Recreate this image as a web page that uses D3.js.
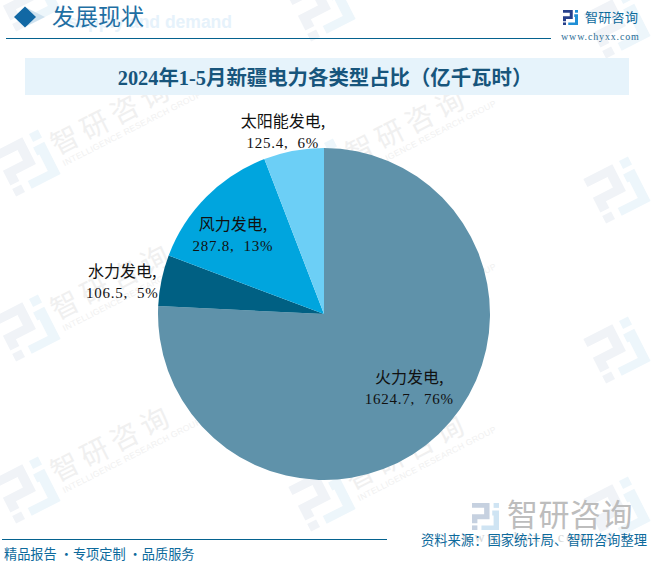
<!DOCTYPE html>
<html>
<head>
<meta charset="utf-8">
<style>
html, body { margin: 0; padding: 0; background: #fff; }
svg { display: block; }
</style>
<script src="https://cdn.jsdelivr.net/npm/d3@7"></script>
</head>
<body>
<svg></svg>
<script>
let categories = ['火力发电', '水力发电', '风力发电', '太阳能发电'];
let values = [1624.7, 106.5, 287.8, 125.4];
let percents = ['76%', '5%', '13%', '6%'];
let colors = ['#5f92aa', '#006083', '#00a5de', '#6ccff6'];

let chartTitle = '2024年1-5月新疆电力各类型占比（亿千瓦时）';
let sectionTitle = '发展现状';
let sourceText = '资料来源：国家统计局、智研咨询整理';
let sloganText = '精品报告 ·专项定制 ·品质服务';

let width = 653;
let height = 565;
let cx = 324;
let cy = 314;
let radius = 166;

let serif = '"Liberation Serif", "Noto Sans CJK SC", serif';
let cjk = '"Noto Sans CJK SC", sans-serif';

// label centre = point on the slice's mid angle at this radius, plus a nudge
let labelRadius = [112, 206, 120, 187];
let labelNudge = [[8, -9], [0, 8], [-6, 4], [-7, 0]];

let svg = d3.select('svg').attr('width', width).attr('height', height);

// logo drawn on a 10 unit grid, scaled to size
let drawLogo = (g, size, c1, c2) => {
  let left = g.append('g').attr('fill', c1);
  let right = g.append('g').attr('fill', c2);
  let s = d3.scaleLinear().domain([0, 10]).range([0, size]);
  let toPath = pts => 'M' + pts.map(p => s(p[0]) + ' ' + s(p[1])).join('L') + 'Z';
  left.append('path').attr('d', toPath([[0, 0], [6.5, 0], [6.5, 6], [2, 6], [2, 7.5], [0, 7.5], [0, 4.2], [4.5, 4.2], [4.5, 1.8], [0, 1.8]]));
  left.append('path').attr('d', toPath([[0, 8.3], [2, 8.3], [2, 10], [0, 10]]));
  right.append('path').attr('d', toPath([[8, 0], [10, 0], [10, 1.8], [8, 1.8]]));
  right.append('path').attr('d', toPath([[7.5, 2.8], [10, 2.8], [10, 10], [3.5, 10], [3.5, 8.3], [8, 8.3], [8, 4.6], [7.5, 4.6]]));
};

let drawWatermarks = () => {
  let logoOnly = [[27, -2], [322, 8], [617, 25], [617, 190], [617, 350], [617, 510]];
  let withText = [[27, 163], [322, 172], [27, 328], [322, 335], [27, 490], [322, 498]];
  logoOnly.concat(withText).forEach(m => {
    let g = svg.append('g').attr('transform', `translate(${m[0]},${m[1]}) rotate(-27)`);
    drawLogo(g.append('g').attr('transform', 'translate(-25,-25)'), 50, '#f0f3f7', '#edf6fb');
  });
  withText.forEach(m => {
    let g = svg.append('g').attr('transform', `translate(${m[0]},${m[1]}) rotate(-27)`);
    g.append('text').attr('x', 30).attr('y', 7).attr('font-family', cjk)
      .attr('font-size', 28).attr('letter-spacing', 5.5).attr('fill', '#f0f0f0').text('智研咨询');
    g.append('text').attr('x', 32).attr('y', 20).attr('font-family', '"Liberation Sans"')
      .attr('font-size', 8.6).attr('letter-spacing', 0.3).attr('fill', '#f1f1f1').text('INTELLIGENCE RESEARCH GROUP');
  });
};

let drawHeader = () => {
  svg.append('text').attr('x', 232).attr('y', 28).attr('text-anchor', 'end').attr('font-family', '"Liberation Sans"')
    .attr('font-weight', 'bold').attr('font-size', 17.5).attr('fill', '#e6f2fb').text('supply and demand');
  svg.append('path').attr('d', 'M24 6.5L45 17L24 27.5L30 17Z').attr('fill', '#cfe2ef');
  svg.append('path').attr('d', 'M25 6.5L36 17L25 27.5L14 17Z').attr('fill', '#1268a4');
  svg.append('text').attr('x', 52).attr('y', 25).attr('font-family', cjk)
    .attr('font-size', 23).attr('fill', '#1f6fa3').text(sectionTitle);
  svg.append('line').attr('x1', 6).attr('x2', 551).attr('y1', 38.5).attr('y2', 38.5)
    .attr('stroke', '#05628f').attr('stroke-width', 1);
  drawLogo(svg.append('g').attr('transform', 'translate(563,10)'), 15, '#27408b', '#1f8fd6');
  svg.append('text').attr('x', 585).attr('y', 22).attr('font-family', cjk)
    .attr('font-size', 13).attr('letter-spacing', 0.3).attr('fill', '#0d6a9c').text('智研咨询');
  svg.append('text').attr('x', 561).attr('y', 40).attr('font-family', '"Liberation Serif"')
    .attr('font-size', 10).attr('letter-spacing', 0.85).attr('fill', '#2c6e95').text('www.chyxx.com');

  svg.append('rect').attr('x', 25).attr('y', 58).attr('width', 604).attr('height', 37).attr('fill', '#e6f3fb');
  svg.append('text').attr('x', 325).attr('y', 85).attr('text-anchor', 'middle')
    .attr('font-family', serif).attr('font-weight', 'bold').attr('font-size', 20.4)
    .attr('fill', '#17557c').text(chartTitle);
};

let drawPie = () => {
  let pie = d3.pie().sort(null).value(d => d);
  let arc = d3.arc().innerRadius(0).outerRadius(radius);
  let arcs = pie(values);
  let g = svg.append('g').attr('transform', `translate(${cx},${cy})`);

  g.selectAll('path').data(arcs).enter().append('path')
    .attr('d', arc)
    .attr('fill', (d, i) => colors[i]);

  arcs.forEach((d, i) => {
    let mid = (d.startAngle + d.endAngle) / 2;
    let x = Math.sin(mid) * labelRadius[i] + labelNudge[i][0];
    let y = -Math.cos(mid) * labelRadius[i] + labelNudge[i][1];
    let t = g.append('text').attr('text-anchor', 'middle').attr('fill', '#111');
    t.append('tspan').attr('x', x).attr('y', y - 3)
      .attr('font-family', cjk).attr('font-size', 16).text(categories[i] + ',');
    t.append('tspan').attr('x', x).attr('y', y + 18)
      .attr('font-family', '"Liberation Serif"').attr('font-size', 15)
      .attr('letter-spacing', 0.75).style('white-space', 'pre')
      .text(values[i].toFixed(1) + ',  ' + percents[i]);
  });
};

let drawFooter = () => {
  drawLogo(svg.append('g').attr('transform', 'translate(472,503)'), 27, '#c6d1e0', '#cfe4f3');
  svg.append('text').attr('x', 507).attr('y', 526).attr('font-family', cjk)
    .attr('font-size', 31).attr('letter-spacing', 0.5).attr('fill', '#bdbdbd').text('智研咨询');
  svg.append('text').attr('x', 462).attr('y', 542).attr('font-family', '"Liberation Serif"')
    .attr('font-size', 14).attr('letter-spacing', 2.5).attr('fill', '#d6d6d6').text('www.chyxx.com');
  svg.append('line').attr('x1', 2).attr('x2', 387).attr('y1', 539.5).attr('y2', 539.5)
    .attr('stroke', '#05628f').attr('stroke-width', 1);
  svg.append('text').attr('x', 4).attr('y', 559).attr('font-family', cjk)
    .attr('font-size', 13.2).attr('fill', '#0d6a9c').text(sloganText);
  svg.append('text').attr('x', 647).attr('y', 545).attr('text-anchor', 'end').attr('font-family', cjk)
    .attr('font-size', 13.3).attr('fill', '#0d6a9c').text(sourceText);
};

drawWatermarks();
drawHeader();
drawPie();
drawFooter();
</script>
</body>
</html>
